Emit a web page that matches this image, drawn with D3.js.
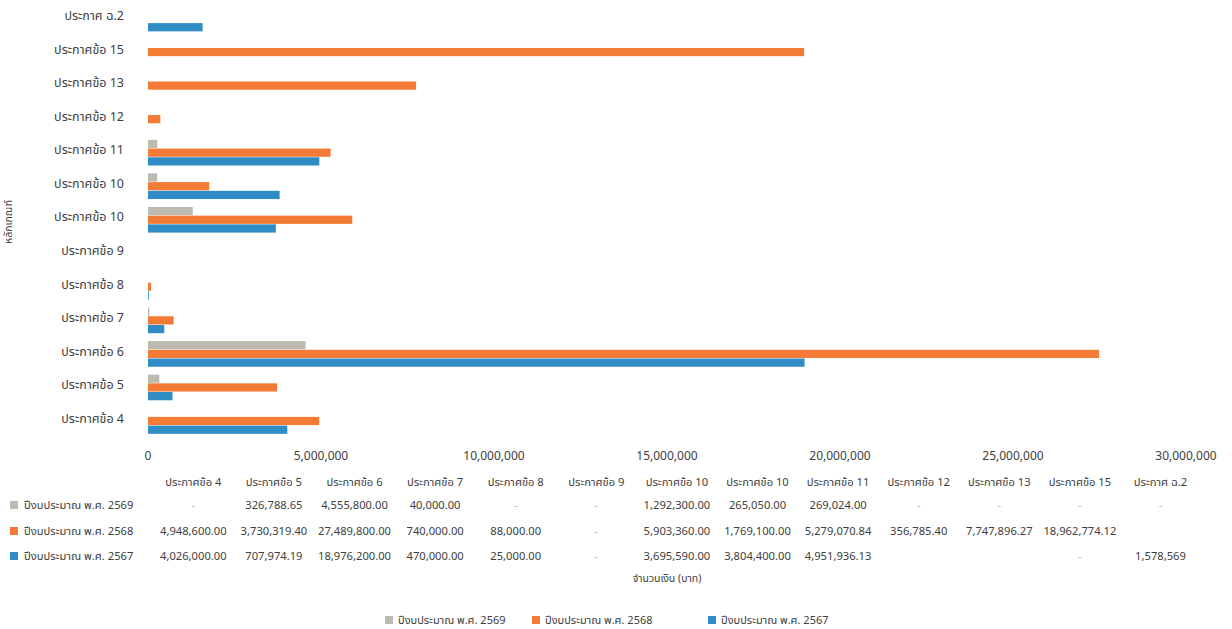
<!DOCTYPE html>
<html>
<head>
<meta charset="utf-8">
<script src="https://cdn.jsdelivr.net/npm/d3@7"></script>
<style>
body { margin:0; background:#fff; }
svg text { font-family: "Noto Sans Thai", "Noto Sans", "DejaVu Sans", sans-serif; fill:#404040; }
</style>
</head>
<body>
<div id="chart"></div>
<script>
// categories, bottom to top as drawn
var categories = ["ประกาศข้อ 4","ประกาศข้อ 5","ประกาศข้อ 6","ประกาศข้อ 7","ประกาศข้อ 8","ประกาศข้อ 9",
	"ประกาศข้อ 10","ประกาศข้อ 10","ประกาศข้อ 11","ประกาศข้อ 12","ประกาศข้อ 13","ประกาศข้อ 15","ประกาศ ฉ.2"]

// table values as printed ("-" dash, "" blank)
var values2569 = ["-","326,788.65","4,555,800.00","40,000.00","-","-","1,292,300.00","265,050.00","269,024.00","-","-","-","-"]
var values2568 = ["4,948,600.00","3,730,319.40","27,489,800.00","740,000.00","88,000.00","-","5,903,360.00","1,769,100.00","5,279,070.84","356,785.40","7,747,896.27","18,962,774.12",""]
var values2567 = ["4,026,000.00","707,974.19","18,976,200.00","470,000.00","25,000.00","-","3,695,590.00","3,804,400.00","4,951,936.13","","","-","1,578,569"]

var seriesNames = ["ปีงบประมาณ พ.ศ. 2569","ปีงบประมาณ พ.ศ. 2568","ปีงบประมาณ พ.ศ. 2567"]
var seriesColors = ["#bdbab2","#f47b35","#2f8cc4"]
var xTicks = [0,5000000,10000000,15000000,20000000,25000000,30000000]

var W = 1232, H = 629
var svg = d3.select("#chart").append("svg").attr("width",W).attr("height",H)

var series = [values2569, values2568, values2567].map(function(vals, s){
	return { name: seriesNames[s], color: seriesColors[s], text: vals,
		nums: vals.map(function(v){ var n = parseFloat(v.replace(/,/g,'')); return isNaN(n) ? 0 : n }) }
})

var x = d3.scaleLinear().domain([0,30000000]).range([148,1186])
var idx = d3.range(categories.length).reverse()
var y = d3.scaleBand().domain(idx).range([2,438]).paddingInner(0.22).paddingOuter(0.11)
var ySub = d3.scaleBand().domain([0,1,2]).range([0,y.bandwidth()])

// bars
series.forEach(function(s, si){
	svg.append('g').selectAll('rect').data(s.nums).enter()
		.append('rect')
		.attr('x', x(0))
		.attr('y', function(d,i){ return y(i) + ySub(si) })
		.attr('width', function(d){ return Math.max(0, x(d) - x(0)) })
		.attr('height', ySub.bandwidth() - 0.5)
		.attr('fill', s.color)
})

// category labels
svg.append('g').selectAll('text').data(categories).enter()
	.append('text')
	.attr('x', 124)
	.attr('y', function(d,i){ return y(i) + y.bandwidth()/2 - 2 })
	.attr('text-anchor','end')
	.attr('dominant-baseline','middle')
	.style('font-size','12.5px')
	.text(function(d){ return d })

// y title
svg.append('text')
	.attr('transform','translate(12,222) rotate(-90)')
	.attr('text-anchor','middle')
	.style('font-size','10.5px')
	.text('หลักเกณฑ์')

// x tick labels
svg.append('g').selectAll('text').data(xTicks).enter()
	.append('text')
	.attr('x', function(d){ return x(d) })
	.attr('y', 460)
	.attr('text-anchor','middle')
	.style('font-size','12px')
	.text(function(d){ return d3.format(",")(d) })

// data table
var colW = 80.6, col0 = 153
var cx = function(i){ return col0 + colW*i + colW/2 }
svg.append('g').selectAll('text').data(categories).enter()
	.append('text')
	.attr('x', function(d,i){ return cx(i) })
	.attr('y', 486)
	.attr('text-anchor','middle')
	.style('font-size','11.2px')
	.text(function(d){ return d })

var rowY = [509, 535, 560]
series.forEach(function(s, si){
	var g = svg.append('g')
	g.append('rect').attr('x',10).attr('y',rowY[si]-8).attr('width',8).attr('height',8).attr('fill',s.color)
	g.append('text').attr('x',24).attr('y',rowY[si]).style('font-size','11.2px').text(s.name)
	g.selectAll('.cell').data(s.text).enter()
		.append('text')
		.attr('class','cell')
		.attr('x', function(d,i){ return cx(i) })
		.attr('y', rowY[si])
		.attr('text-anchor','middle')
		.style('font-size','11.2px')
		.style('fill', function(d){ return d == '-' ? '#bbb' : '#404040' })
		.text(function(d){ return d })
})

// x title
svg.append('text')
	.attr('x', 667).attr('y', 582)
	.attr('text-anchor','middle')
	.style('font-size','10.5px')
	.text('จำนวนเงิน (บาท)')

// legend
var legX = [385, 532, 708]
series.forEach(function(s, si){
	svg.append('rect').attr('x',legX[si]).attr('y',616).attr('width',8).attr('height',8).attr('fill',s.color)
	svg.append('text').attr('x',legX[si]+13).attr('y',624).style('font-size','11px').text(s.name)
})
</script>
</body>
</html>
